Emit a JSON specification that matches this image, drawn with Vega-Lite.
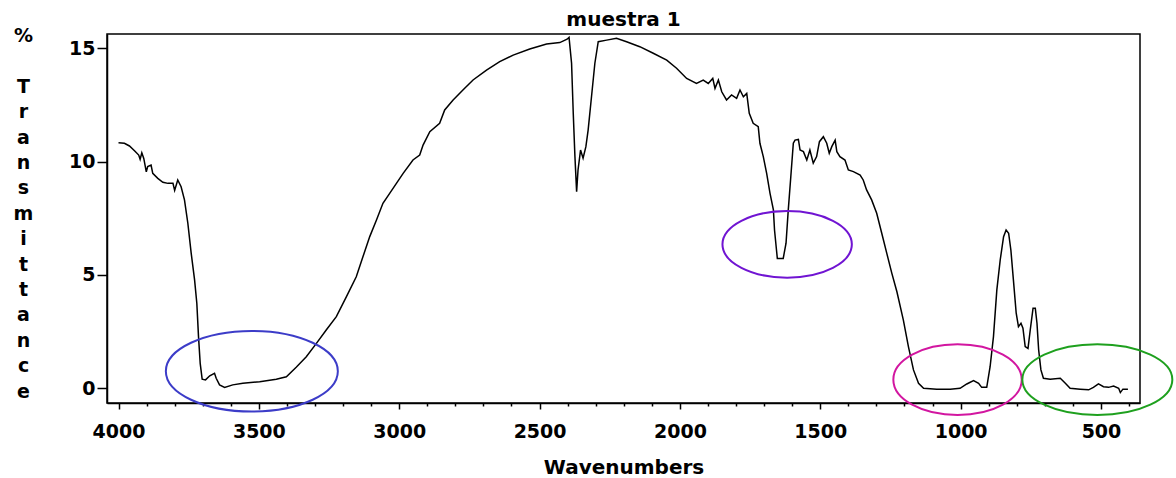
{
  "$schema": "https://vega.github.io/schema/vega-lite/v6.json",
  "autosize": "none",
  "width": 1033,
  "height": 369,
  "padding": {"left": 107, "top": 34, "right": 36, "bottom": 75},
  "background": "white",
  "title": {
    "text": "muestra 1",
    "font": "DejaVu Sans",
    "fontSize": 20,
    "fontWeight": "bold",
    "color": "black",
    "anchor": "middle",
    "offset": 6,
    "dy": 9
  },
  "config": {
    "view": {"stroke": "black", "strokeWidth": 1.5},
    "axis": {
      "domainColor": "black",
      "domainWidth": 1.5,
      "tickColor": "black",
      "tickWidth": 1.5,
      "grid": false,
      "labelFont": "DejaVu Sans",
      "labelFontSize": 19,
      "labelFontWeight": "bold",
      "labelColor": "black",
      "titleFont": "DejaVu Sans",
      "titleFontWeight": "bold",
      "titleColor": "black"
    }
  },
  "datasets": {
    "spectrum": [
      {"wn": 4000, "t": 10.83}, {"wn": 3979, "t": 10.81}, {"wn": 3961, "t": 10.69}, {"wn": 3943, "t": 10.48},
      {"wn": 3928, "t": 10.29}, {"wn": 3923, "t": 10.10}, {"wn": 3917, "t": 10.39}, {"wn": 3910, "t": 10.14},
      {"wn": 3901, "t": 9.55}, {"wn": 3896, "t": 9.78}, {"wn": 3884, "t": 9.85}, {"wn": 3878, "t": 9.48},
      {"wn": 3860, "t": 9.26}, {"wn": 3842, "t": 9.09}, {"wn": 3824, "t": 9.04}, {"wn": 3806, "t": 9.04},
      {"wn": 3800, "t": 8.73}, {"wn": 3789, "t": 9.19}, {"wn": 3777, "t": 8.89}, {"wn": 3765, "t": 8.31},
      {"wn": 3753, "t": 7.28}, {"wn": 3741, "t": 5.95}, {"wn": 3729, "t": 4.78}, {"wn": 3721, "t": 3.75},
      {"wn": 3715, "t": 2.28}, {"wn": 3709, "t": 1.10}, {"wn": 3702, "t": 0.40}, {"wn": 3690, "t": 0.37},
      {"wn": 3675, "t": 0.55}, {"wn": 3658, "t": 0.66}, {"wn": 3652, "t": 0.44}, {"wn": 3640, "t": 0.15},
      {"wn": 3622, "t": 0.04}, {"wn": 3593, "t": 0.15}, {"wn": 3557, "t": 0.22}, {"wn": 3497, "t": 0.29},
      {"wn": 3438, "t": 0.40}, {"wn": 3402, "t": 0.51}, {"wn": 3367, "t": 0.93}, {"wn": 3331, "t": 1.39},
      {"wn": 3295, "t": 1.98}, {"wn": 3260, "t": 2.57}, {"wn": 3224, "t": 3.16}, {"wn": 3188, "t": 4.04},
      {"wn": 3153, "t": 4.92}, {"wn": 3129, "t": 5.81}, {"wn": 3105, "t": 6.69}, {"wn": 3081, "t": 7.42},
      {"wn": 3058, "t": 8.16}, {"wn": 3034, "t": 8.60}, {"wn": 3010, "t": 9.04}, {"wn": 2986, "t": 9.48},
      {"wn": 2951, "t": 10.07}, {"wn": 2927, "t": 10.29}, {"wn": 2915, "t": 10.73}, {"wn": 2891, "t": 11.32},
      {"wn": 2856, "t": 11.69}, {"wn": 2838, "t": 12.28}, {"wn": 2808, "t": 12.72}, {"wn": 2773, "t": 13.16},
      {"wn": 2737, "t": 13.60}, {"wn": 2689, "t": 14.04}, {"wn": 2642, "t": 14.41}, {"wn": 2594, "t": 14.70},
      {"wn": 2535, "t": 14.97}, {"wn": 2475, "t": 15.19}, {"wn": 2428, "t": 15.25}, {"wn": 2402, "t": 15.40},
      {"wn": 2395, "t": 15.48}, {"wn": 2386, "t": 14.34}, {"wn": 2380, "t": 12.13}, {"wn": 2374, "t": 10.22},
      {"wn": 2368, "t": 8.67}, {"wn": 2363, "t": 9.63}, {"wn": 2354, "t": 10.51}, {"wn": 2345, "t": 10.15},
      {"wn": 2335, "t": 10.66}, {"wn": 2327, "t": 11.39}, {"wn": 2315, "t": 12.86}, {"wn": 2303, "t": 14.34},
      {"wn": 2291, "t": 15.29}, {"wn": 2261, "t": 15.36}, {"wn": 2226, "t": 15.44}, {"wn": 2190, "t": 15.29},
      {"wn": 2143, "t": 15.07}, {"wn": 2095, "t": 14.78}, {"wn": 2047, "t": 14.48}, {"wn": 2012, "t": 14.12},
      {"wn": 1976, "t": 13.67}, {"wn": 1941, "t": 13.45}, {"wn": 1917, "t": 13.60}, {"wn": 1899, "t": 13.45},
      {"wn": 1883, "t": 13.67}, {"wn": 1875, "t": 13.23}, {"wn": 1863, "t": 13.60}, {"wn": 1851, "t": 13.08},
      {"wn": 1834, "t": 12.72}, {"wn": 1816, "t": 12.94}, {"wn": 1798, "t": 12.79}, {"wn": 1786, "t": 13.16},
      {"wn": 1774, "t": 12.86}, {"wn": 1762, "t": 13.01}, {"wn": 1753, "t": 12.13}, {"wn": 1739, "t": 11.69},
      {"wn": 1721, "t": 11.54}, {"wn": 1715, "t": 10.81}, {"wn": 1703, "t": 10.22}, {"wn": 1691, "t": 9.48},
      {"wn": 1679, "t": 8.60}, {"wn": 1667, "t": 7.87}, {"wn": 1663, "t": 6.98}, {"wn": 1656, "t": 6.10},
      {"wn": 1653, "t": 5.73}, {"wn": 1632, "t": 5.73}, {"wn": 1622, "t": 6.40}, {"wn": 1614, "t": 7.87},
      {"wn": 1605, "t": 9.33}, {"wn": 1596, "t": 10.81}, {"wn": 1590, "t": 10.95}, {"wn": 1578, "t": 10.98},
      {"wn": 1572, "t": 10.51}, {"wn": 1560, "t": 10.44}, {"wn": 1548, "t": 10.07}, {"wn": 1537, "t": 10.51},
      {"wn": 1525, "t": 9.93}, {"wn": 1513, "t": 10.22}, {"wn": 1503, "t": 10.88}, {"wn": 1489, "t": 11.10},
      {"wn": 1477, "t": 10.81}, {"wn": 1468, "t": 10.37}, {"wn": 1459, "t": 10.66}, {"wn": 1447, "t": 10.95},
      {"wn": 1441, "t": 10.44}, {"wn": 1430, "t": 10.22}, {"wn": 1412, "t": 10.07}, {"wn": 1400, "t": 9.63},
      {"wn": 1382, "t": 9.56}, {"wn": 1358, "t": 9.41}, {"wn": 1347, "t": 9.19}, {"wn": 1335, "t": 8.75},
      {"wn": 1317, "t": 8.31}, {"wn": 1299, "t": 7.72}, {"wn": 1281, "t": 6.84}, {"wn": 1263, "t": 5.95},
      {"wn": 1245, "t": 5.07}, {"wn": 1227, "t": 4.26}, {"wn": 1204, "t": 3.01}, {"wn": 1186, "t": 1.84},
      {"wn": 1168, "t": 0.81}, {"wn": 1150, "t": 0.22}, {"wn": 1132, "t": 0.00}, {"wn": 1085, "t": -0.04},
      {"wn": 1037, "t": -0.04}, {"wn": 1002, "t": 0.00}, {"wn": 978, "t": 0.19}, {"wn": 954, "t": 0.34},
      {"wn": 936, "t": 0.22}, {"wn": 925, "t": 0.04}, {"wn": 907, "t": 0.04}, {"wn": 895, "t": 0.95},
      {"wn": 883, "t": 2.28}, {"wn": 871, "t": 4.34}, {"wn": 859, "t": 5.66}, {"wn": 847, "t": 6.69},
      {"wn": 838, "t": 6.98}, {"wn": 829, "t": 6.84}, {"wn": 821, "t": 6.10}, {"wn": 812, "t": 4.78},
      {"wn": 802, "t": 3.31}, {"wn": 794, "t": 2.72}, {"wn": 785, "t": 2.87}, {"wn": 778, "t": 2.65},
      {"wn": 770, "t": 1.84}, {"wn": 760, "t": 1.76}, {"wn": 752, "t": 2.57}, {"wn": 742, "t": 3.53},
      {"wn": 734, "t": 3.53}, {"wn": 728, "t": 2.87}, {"wn": 722, "t": 1.69}, {"wn": 714, "t": 0.81},
      {"wn": 705, "t": 0.44}, {"wn": 681, "t": 0.40}, {"wn": 645, "t": 0.44}, {"wn": 627, "t": 0.22},
      {"wn": 610, "t": 0.00}, {"wn": 574, "t": -0.04}, {"wn": 544, "t": -0.07}, {"wn": 527, "t": 0.04},
      {"wn": 509, "t": 0.19}, {"wn": 491, "t": 0.07}, {"wn": 473, "t": 0.04}, {"wn": 455, "t": 0.10},
      {"wn": 437, "t": 0.00}, {"wn": 431, "t": -0.19}, {"wn": 422, "t": -0.04}, {"wn": 404, "t": -0.04}
    ],
    "regions": [
      {"region": "OH", "wn": 3525, "t": 0.75},
      {"region": "CO", "wn": 1618, "t": 6.35},
      {"region": "SiO", "wn": 1011, "t": 0.38},
      {"region": "low", "wn": 513, "t": 0.38}
    ]
  },
  "encoding": {
    "x": {
      "field": "wn", "type": "quantitative",
      "scale": {"domain": [361, 4041], "reverse": true, "nice": false, "zero": false},
      "axis": {
        "title": "Wavenumbers",
        "titleFontSize": 20,
        "titleBaseline": "alphabetic",
        "titleY": 70,
        "values": [400, 500, 600, 700, 800, 900, 1000, 1100, 1200, 1300, 1400, 1500, 1600, 1700, 1800, 1900, 2000, 2100, 2200, 2300, 2400, 2500, 2600, 2700, 2800, 2900, 3000, 3100, 3200, 3300, 3400, 3500, 3600, 3700, 3800, 3900, 4000],
        "format": "d",
        "labelExpr": "datum.value % 500 === 0 ? datum.label : ''",
        "labelOverlap": false,
        "labelFlush": false,
        "labelBound": false,
        "tickSize": {"condition": {"test": "datum.value % 500 === 0", "value": 6}, "value": 3},
        "labelPadding": 13
      }
    },
    "y": {
      "field": "t", "type": "quantitative",
      "scale": {"domain": [-0.65, 15.63], "nice": false, "zero": false},
      "axis": {
        "title": ["%", "\u200b", "T", "r", "a", "n", "s", "m", "i", "t", "t", "a", "n", "c", "e"],
        "titleAngle": 0,
        "titleAlign": "center",
        "titleBaseline": "alphabetic",
        "titleX": -84,
        "titleY": 7.5,
        "titleFontSize": 19,
        "titleLineHeight": 25.4,
        "values": [0, 5, 10, 15],
        "format": "d",
        "tickSize": 10,
        "labelPadding": 2
      }
    }
  },
  "layer": [
    {
      "data": {"name": "spectrum"},
      "mark": {"type": "line", "color": "black", "strokeWidth": 1.5, "interpolate": "linear"},
      "encoding": {"order": {"field": "wn", "sort": "descending"}}
    },
    {
      "data": {"name": "regions"},
      "transform": [{"filter": "datum.region === 'OH'"}],
      "mark": {"type": "point", "filled": false, "opacity": 1, "size": 4, "strokeWidth": 2, "stroke": "#3c3cc8",
        "shape": "M -86 0 A 86 40.3 0 1 0 86 0 A 86 40.3 0 1 0 -86 0 Z"}
    },
    {
      "data": {"name": "regions"},
      "transform": [{"filter": "datum.region === 'CO'"}],
      "mark": {"type": "point", "filled": false, "opacity": 1, "size": 4, "strokeWidth": 2, "stroke": "#7014d2",
        "shape": "M -64.7 0 A 64.7 33.3 0 1 0 64.7 0 A 64.7 33.3 0 1 0 -64.7 0 Z"}
    },
    {
      "data": {"name": "regions"},
      "transform": [{"filter": "datum.region === 'SiO'"}],
      "mark": {"type": "point", "filled": false, "opacity": 1, "size": 4, "strokeWidth": 2, "stroke": "#d216a0",
        "shape": "M -64.2 0 A 64.2 35.3 0 1 0 64.2 0 A 64.2 35.3 0 1 0 -64.2 0 Z"}
    },
    {
      "data": {"name": "regions"},
      "transform": [{"filter": "datum.region === 'low'"}],
      "mark": {"type": "point", "filled": false, "opacity": 1, "size": 4, "strokeWidth": 2, "stroke": "#1ea01e",
        "shape": "M -75 0 A 75 35.3 0 1 0 75 0 A 75 35.3 0 1 0 -75 0 Z"}
    }
  ]
}
